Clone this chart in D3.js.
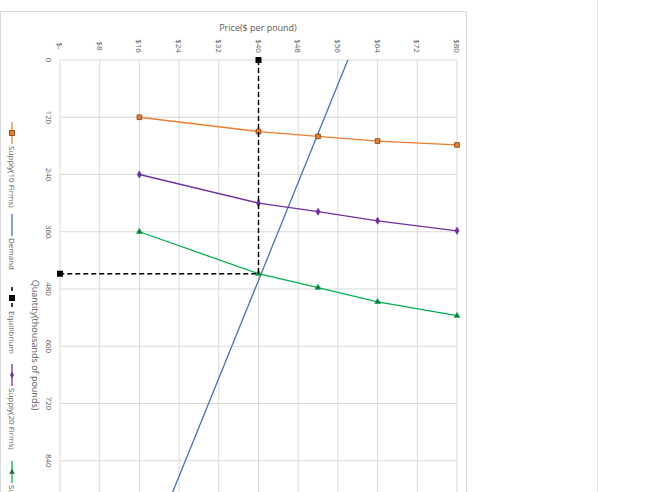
<!DOCTYPE html>
<html><head><meta charset="utf-8">
<script src="https://cdn.jsdelivr.net/npm/d3@7"></script>
<style>body{margin:0;background:#fff}text{font-family:"Open Sans",sans-serif;fill:#595959}</style>
</head><body>
<script>
let width = 664, height = 492;
let priceTicks = [0, 8, 16, 24, 32, 40, 48, 56, 64, 72, 80];
let qtyTicks = [0, 120, 240, 360, 480, 600, 720, 840, 960];
let supplyPrices = [16, 40, 52, 64, 80];
let supply10 = [120, 150, 160, 170, 178];
let supply20 = [240, 300, 318, 337, 358];
let supply30 = [360, 448, 477, 507, 536];
let demandPrices = [58, 20];
let demandQty = [0, 975];
let eqPrices = [40, 40, 0];
let eqQty = [0, 448, 448];

let svg = d3.select("body").append("svg").attr("width", width).attr("height", height);
svg.append("rect").attr("x", 0.5).attr("y", 11.5).attr("width", 466).attr("height", 500)
    .attr("fill", "none").attr("stroke", "#d9d9d9");
svg.append("line").attr("x1", 597.5).attr("x2", 597.5).attr("y1", 0).attr("y2", height).attr("stroke", "#e8e8e8");

let x = d3.scaleLinear().domain([0, 80]).range([60, 457]);
let y = d3.scaleLinear().domain([0, 960]).range([60, 518]);

let g = svg.append("g");
g.selectAll(".vg").data(priceTicks).enter().append("line")
    .attr("x1", d => x(d)).attr("x2", d => x(d)).attr("y1", y(0)).attr("y2", y(960))
    .attr("stroke", "#d9d9d9");
g.selectAll(".hg").data(qtyTicks).enter().append("line")
    .attr("x1", x(0)).attr("x2", x(80)).attr("y1", d => y(d)).attr("y2", d => y(d))
    .attr("stroke", "#d9d9d9");

g.selectAll(".pt").data(priceTicks).enter().append("text")
    .attr("transform", d => "translate(" + (x(d) - 3) + ",46) rotate(90)")
    .attr("text-anchor", "middle").attr("font-size", 8)
    .text(d => d === 0 ? "$-" : "$" + d);
g.selectAll(".qt").data(qtyTicks).enter().append("text")
    .attr("transform", d => "translate(46," + y(d) + ") rotate(90)")
    .attr("text-anchor", "middle").attr("font-size", 8)
    .text(d => d);

svg.append("text").attr("x", 258).attr("y", 31).attr("text-anchor", "middle").attr("font-size", 9).text("Price($ per pound)");
svg.append("text").attr("transform", "translate(32,345) rotate(90)").attr("text-anchor", "middle")
    .attr("font-size", 9).text("Quantity(thousands of pounds)");

let line = d3.line().x(d => x(d[0])).y(d => y(d[1]));
function series(prices, qty, color, shape, dash, w) {
    let pts = prices.map((p, i) => [p, qty[i]]);
    svg.append("path").attr("d", line(pts)).attr("fill", "none").attr("stroke", color)
        .attr("stroke-width", w).attr("stroke-dasharray", dash);
    svg.selectAll(null).data(pts).enter().append("path")
        .attr("transform", d => "translate(" + x(d[0]) + "," + y(d[1]) + ")")
        .attr("d", d3.symbol().type(shape.t).size(shape.s))
        .attr("fill", shape.f).attr("stroke", shape.st).attr("stroke-width", 0.8);
}
series(demandPrices, demandQty, "#4472c4", {t: d3.symbolCircle, s: 0}, null, 1.3);
series(supplyPrices, supply10, "#ed7d31", {t: d3.symbolSquare, s: 22, f: "#ed7d31", st: "#7f3f10"}, null, 1.3);
series(supplyPrices, supply20, "#7030a0", {t: d3.symbolDiamond, s: 14, f: "#7030a0", st: "#7030a0"}, null, 1.3);
series(supplyPrices, supply30, "#00b050", {t: d3.symbolTriangle, s: 14, f: "#1e6e3a", st: "#00b050"}, null, 1.3);
svg.append("path").attr("d", line(eqPrices.map((p, i) => [p, eqQty[i]]))).attr("fill", "none")
    .attr("stroke", "#000").attr("stroke-width", 1.5).attr("stroke-dasharray", "5,3");
svg.selectAll(null).data([[40, 0], [0, 448]]).enter().append("rect")
    .attr("x", d => x(d[0]) - 3).attr("y", d => y(d[1]) - 3).attr("width", 6).attr("height", 6).attr("fill", "#000");

// legend, rotated
let legend = [
    {name: "Supply(10 Firms)", y: 133, color: "#ed7d31", m: "sq"},
    {name: "Demand", y: 225, color: "#4472c4", m: null},
    {name: "Equilibrium", y: 298, color: "#000", m: "eq"},
    {name: "Supply(20 Firms)", y: 375, color: "#7030a0", m: "di"},
    {name: "Supply(30 Firms)", y: 472, color: "#00b050", m: "tr"}
];
legend.forEach(l => {
    if (l.m === "eq") {
        svg.append("line").attr("x1", 12).attr("x2", 12).attr("y1", l.y - 11).attr("y2", l.y + 11)
            .attr("stroke", "#000").attr("stroke-width", 1.5).attr("stroke-dasharray", "4,4");
        svg.append("rect").attr("x", 9).attr("y", l.y - 3).attr("width", 6).attr("height", 6).attr("fill", "#000");
    } else {
        svg.append("line").attr("x1", 12).attr("x2", 12).attr("y1", l.y - 11).attr("y2", l.y + 11)
            .attr("stroke", l.color).attr("stroke-width", 1.3);
        if (l.m === "sq") svg.append("rect").attr("x", 9.5).attr("y", l.y - 2.5).attr("width", 5).attr("height", 5)
            .attr("fill", l.color).attr("stroke", "#7f3f10").attr("stroke-width", 0.8);
        if (l.m === "di") svg.append("path").attr("transform", "translate(12," + l.y + ")").attr("d", d3.symbol().type(d3.symbolDiamond).size(14)()).attr("fill", l.color);
        if (l.m === "tr") svg.append("path").attr("transform", "translate(12," + l.y + ")").attr("d", d3.symbol().type(d3.symbolTriangle).size(14)()).attr("fill", "#1e6e3a");
    }
    svg.append("text").attr("transform", "translate(9," + (l.y + 13) + ") rotate(90)")
        .attr("font-size", 8).text(l.name);
});
</script>
</body></html>
